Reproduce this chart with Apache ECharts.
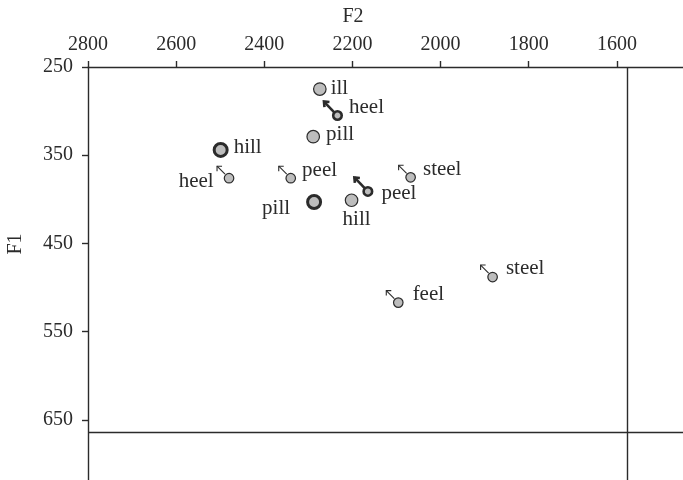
<!DOCTYPE html>
<html>
<head>
<meta charset="utf-8">
<script src="https://cdn.jsdelivr.net/npm/echarts@6/dist/echarts.min.js"></script>
<style>
html,body{margin:0;padding:0;background:#fff;}
#chart{width:683px;height:480px;}
</style>
</head>
<body>
<div id="chart"></div>
<script>
// ---- data ----
const words = ['ill','heel','pill','hill','heel','peel','pill','hill','peel','steel','steel','feel'];
const f2    = [2274, 2234, 2289, 2499, 2480, 2340, 2287, 2202, 2165, 2068, 1882, 2096];
const f1    = [275,  305,  329,  344,  376,  376,  403,  401,  391,  375,  488,  517];
const kind  = ['plain','boldArrow','plain','bold','arrow','arrow','bold','plain','boldArrow','arrow','arrow','arrow'];
const xTicks = [2800, 2600, 2400, 2200, 2000, 1800, 1600];
const yTicks = [250, 350, 450, 550, 650];
const refF1 = 664;
const refF2 = 1577;

// ---- styles ----
const FONT = '"Liberation Serif", "DejaVu Serif", serif';
const INK = '#2b2b2b';
const FILL = '#bdbdbd';
const labelStyle = [
  {position:'right',  distance:4,  offset:[0,-1]},
  {position:'right',  distance:6,  offset:[0,-8]},
  {position:'right',  distance:6,  offset:[0,-2]},
  {position:'right',  distance:5,  offset:[0,-2]},
  {position:'left',   distance:10, offset:[0,3]},
  {position:'right',  distance:6,  offset:[0,-8]},
  {position:'left',   distance:16, offset:[0,6]},
  {position:'bottom', distance:2,  offset:[5,0]},
  {position:'right',  distance:8,  offset:[0,2]},
  {position:'right',  distance:7,  offset:[0,-8]},
  {position:'right',  distance:8,  offset:[0,-9]},
  {position:'right',  distance:9,  offset:[0,-8]}
];
const kindStyle = {
  plain:     {size:12.5, border:1.2},
  bold:      {size:13, border:3},
  arrow:     {size:9.5, border:1.2},
  boldArrow: {size:8.5, border:2.6}
};

function pointsOf(k){
  const out = [];
  for (let i=0;i<words.length;i++){
    if (kind[i]!==k) continue;
    const ls = labelStyle[i];
    out.push({
      value:[f2[i], f1[i]],
      name: words[i],
      label:{show:true, formatter: words[i], position: ls.position, distance: ls.distance, offset: ls.offset,
             fontFamily: FONT, fontSize: 21, color: INK}
    });
  }
  return out;
}

const arrowData = [];
for (let i=0;i<words.length;i++){
  if (kind[i]==='arrow') arrowData.push([f2[i], f1[i], 0]);
  if (kind[i]==='boldArrow') arrowData.push([f2[i], f1[i], 1]);
}

const scatterSeries = Object.keys(kindStyle).map(k => ({
  type:'scatter',
  name:k,
  z: 3,
  symbol:'circle',
  symbolSize: kindStyle[k].size,
  itemStyle:{color: FILL, borderColor: INK, borderWidth: kindStyle[k].border, opacity:1},
  emphasis:{disabled:true},
  data: pointsOf(k)
}));

const plain = v => String(v);

const chart = echarts.init(document.getElementById('chart'), null, {renderer:'canvas'});
chart.setOption({
  animation:false,
  backgroundColor:'#fff',
  textStyle:{fontFamily: FONT},
  grid:{left:88, top:67, right:0, bottom:0, containLabel:false},
  xAxis:{
    type:'value', position:'top', inverse:true, min:1450, max:2800,
    axisLine:{show:true, onZero:false, lineStyle:{color:INK, width:1.4}},
    axisTick:{show:true, inside:false, length:6, customValues: xTicks, lineStyle:{color:INK, width:1.4}},
    axisLabel:{show:true, customValues: xTicks, formatter: plain, margin:12, fontFamily:FONT, fontSize:20, color:INK},
    splitLine:{show:false}
  },
  yAxis:{
    type:'value', inverse:true, min:250, max:718,
    axisLine:{show:true, onZero:false, lineStyle:{color:INK, width:1.4}},
    axisTick:{show:true, inside:false, length:6, customValues: yTicks, lineStyle:{color:INK, width:1.4}},
    axisLabel:{show:true, customValues: yTicks, formatter: plain, margin:15, fontFamily:FONT, fontSize:20, color:INK},
    splitLine:{show:false}
  },
  graphic:[
    {type:'text', x:353, y:17, style:{text:'F2', fontFamily:FONT, fontSize:20, fill:INK, textAlign:'center', textVerticalAlign:'middle'}},
    {type:'text', x:16, y:244, rotation:Math.PI/2, style:{text:'F1', fontFamily:FONT, fontSize:20, fill:INK, textAlign:'center', textVerticalAlign:'middle'}}
  ],
  series:[
    {
      type:'custom',
      z: 2,
      silent:true,
      renderItem:function(params, api){
        const p = api.coord([api.value(0), api.value(1)]);
        const bold = api.value(2) === 1;
        const tip = bold ? [p[0]-13.5, p[1]-14] : [p[0]-12, p[1]-12];
        const tail = bold ? [p[0]-2, p[1]-2] : [p[0]-4, p[1]-4];
        const h = bold ? 5.5 : 5;
        const lw = bold ? 2.6 : 1.1;
        return {
          type:'group',
          children:[
            {type:'line', shape:{x1:tail[0], y1:tail[1], x2:tip[0], y2:tip[1]}, style:{stroke:INK, lineWidth:lw}},
            {type:'polyline', shape:{points:[[tip[0]+h, tip[1]+(bold?0.5:0)],[tip[0], tip[1]],[tip[0]+(bold?0.5:0), tip[1]+h]]}, style:{stroke:INK, fill:'none', lineWidth:lw, lineJoin:'miter'}}
          ]
        };
      },
      data: arrowData
    },
    {
      type:'line',
      data:[],
      silent:true,
      markLine:{
        silent:true, symbol:['none','none'], animation:false,
        label:{show:false},
        lineStyle:{color:INK, width:1.4, type:'solid'},
        emphasis:{disabled:true},
        data:[{yAxis:refF1},{xAxis:refF2}]
      }
    }
  ].concat(scatterSeries)
});
</script>
</body>
</html>
